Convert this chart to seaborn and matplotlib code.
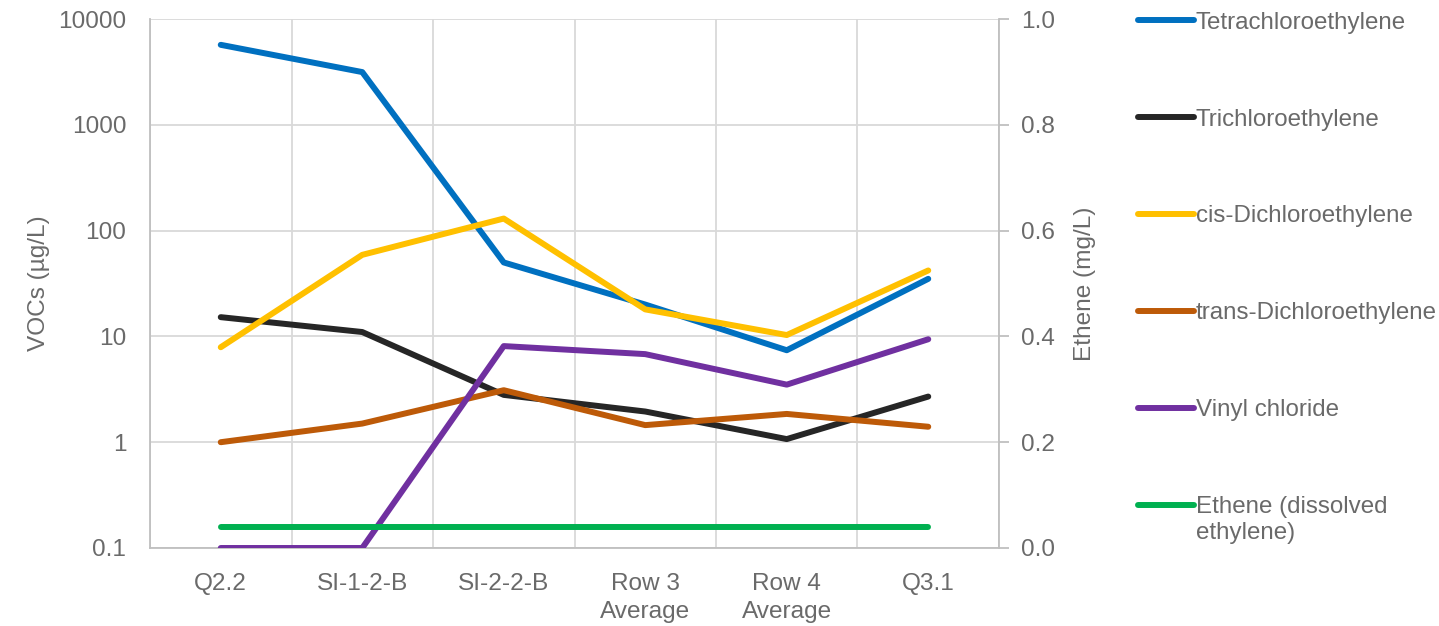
import numpy as np
import pandas as pd
import matplotlib
matplotlib.use("Agg")
import matplotlib.pyplot as plt
import seaborn as sns
from matplotlib.lines import Line2D
from matplotlib.legend_handler import HandlerLine2D

# Sampling locations along the transect
locations = ["Q2.2", "SI-1-2-B", "SI-2-2-B", "Row 3\nAverage", "Row 4\nAverage", "Q3.1"]

# VOC concentrations (µg/L)
pce = [5700, 3150, 50, 20, 7.4, 35]
tce = [15.2, 11, 2.8, 1.95, 1.07, 2.7]
cis_dce = [7.9, 59, 130, 18, 10.3, 42]
trans_dce = [1.0, 1.5, 3.1, 1.45, 1.85, 1.4]
vinyl_chloride = [0.1, 0.1, 8.1, 6.8, 3.5, 9.4]

# Ethene (mg/L), secondary axis
ethene = [0.04, 0.04, 0.04, 0.04, 0.04, 0.04]

voc_names = ["Tetrachloroethylene", "Trichloroethylene", "cis-Dichloroethylene",
             "trans-Dichloroethylene", "Vinyl chloride"]
ethene_name = "Ethene (dissolved\nethylene)"
colors = ["#0070C0", "#262626", "#FFC000", "#BD5A08", "#7030A0"]
ethene_color = "#00B050"

sns.set_theme(style="white")
plt.rcParams["font.family"] = ["Liberation Sans", "DejaVu Sans"]

text_color = "#6A6A6A"
grid_color = "#D9D9D9"
axis_color = "#BFBFBF"
lw = 4.3
fs = 17.6
leg_fs = 17.4


class RaisedLineHandler(HandlerLine2D):
    """Legend line aligned with the first text line of a wrapped label."""

    def __init__(self, raise_by, **kwargs):
        super().__init__(**kwargs)
        self.raise_by = raise_by

    def create_artists(self, legend, orig_handle, xdescent, ydescent, width,
                       height, fontsize, trans):
        return super().create_artists(legend, orig_handle, xdescent,
                                      ydescent - 2 * self.raise_by, width,
                                      height, fontsize, trans)


x = np.arange(len(locations))
voc = pd.DataFrame({
    "pos": np.tile(x, len(voc_names)),
    "value": np.concatenate([pce, tce, cis_dce, trans_dce, vinyl_chloride]),
    "compound": np.repeat(voc_names, len(locations)),
})
eth = pd.DataFrame({"pos": x, "value": ethene})

fig = plt.figure(figsize=(14.39, 6.26), dpi=100)
ax = fig.add_axes([150 / 1439, 1 - 548 / 626, (999 - 150) / 1439, (548 - 19) / 626])

sns.lineplot(data=voc, x="pos", y="value", hue="compound", hue_order=voc_names,
             palette=colors, linewidth=lw, ax=ax, legend=False, zorder=3)
ax.set_yscale("log")
ax.set_ylim(0.1, 10000)
ax.set_xlim(-0.5, len(locations) - 0.5)
ax.set_yticks([0.1, 1, 10, 100, 1000, 10000])
ax.set_yticklabels(["0.1", "1", "10", "100", "1000", "10000"])
ax.minorticks_off()
ax.set_xticks(x)
ax.set_xticklabels(locations)
ax.set_xticks(np.arange(-0.5, len(locations), 1.0), minor=True)
ax.grid(False)
ax.grid(True, which="minor", axis="x", color=grid_color, linewidth=1.3)
ax.grid(True, which="major", axis="y", color=grid_color, linewidth=1.3)
ax.tick_params(axis="both", which="both", length=0, labelsize=fs, colors=text_color)
ax.tick_params(axis="x", pad=18)
ax.tick_params(axis="y", pad=17)
for s in ["top", "right"]:
    ax.spines[s].set_visible(False)
for s in ["left", "bottom"]:
    ax.spines[s].set_color(axis_color)
    ax.spines[s].set_linewidth(1.3)
ax.set_xlabel("")
ax.set_ylabel("VOCs (µg/L)", fontsize=fs, color=text_color, labelpad=6)
for lab in ax.get_xticklabels():
    lab.set_linespacing(1.35)

ax2 = ax.twinx()
sns.lineplot(data=eth, x="pos", y="value", color=ethene_color, linewidth=lw,
             ax=ax2, legend=False, zorder=3)
ax2.set_ylim(0, 1.0)
ax2.set_yticks([0.0, 0.2, 0.4, 0.6, 0.8, 1.0])
ax2.set_yticklabels(["0.0", "0.2", "0.4", "0.6", "0.8", "1.0"])
ax2.grid(False)
ax2.tick_params(axis="y", length=7, width=1.3, color=axis_color, labelsize=fs,
                labelcolor=text_color, pad=9, direction="out")
for s in ["top", "left", "bottom"]:
    ax2.spines[s].set_visible(False)
ax2.spines["right"].set_color(axis_color)
ax2.spines["right"].set_linewidth(1.3)
ax2.set_ylabel("Ethene (mg/L)", fontsize=fs, color=text_color, labelpad=13.5)

handles = [Line2D([], [], color=c, linewidth=lw, solid_capstyle="round") for c in colors]
ethene_handle = Line2D([], [], color=ethene_color, linewidth=lw, solid_capstyle="round")
handles.append(ethene_handle)
labels = voc_names + [ethene_name]
leg = fig.legend(handles, labels, loc="upper left", bbox_to_anchor=(1128 / 1439, 1 - 2 / 626),
                 frameon=False, fontsize=leg_fs, handlelength=2.33, handletextpad=0.08,
                 labelspacing=3.1, borderaxespad=0,
                 handler_map={ethene_handle: RaisedLineHandler(raise_by=10.8)})
for t in leg.get_texts():
    t.set_color(text_color)
    t.set_linespacing(1.25)

fig.savefig("out.png", dpi=100)
